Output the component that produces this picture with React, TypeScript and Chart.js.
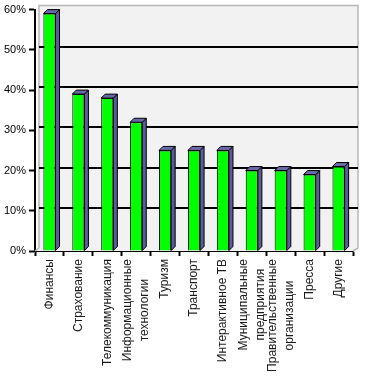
import React, { useEffect, useRef } from 'react';
import { Chart, registerables } from 'chart.js';

Chart.register(...registerables);

const categories: string[][] = [
  ['Финансы'],
  ['Страхование'],
  ['Телекоммуникация'],
  ['Информационные', 'технологии'],
  ['Туризм'],
  ['Транспорт'],
  ['Интерактивное ТВ'],
  ['Муниципальные', 'предприятия'],
  ['Правительственные', 'организации'],
  ['Пресса'],
  ['Другие'],
];
const values: number[] = [59, 39, 38, 32, 25, 25, 25, 20, 20, 19, 21];
const gridValues: number[] = [10, 20, 30, 40, 50];
const yMin = 0;
const yMax = 60;
const yStep = 10;

const FONT = '"Liberation Sans", Arial, sans-serif';
const DX = 4;
const DY = 4;

const wallPlugin = {
  id: 'wall3d',
  beforeDatasetsDraw(chart: any) {
    const { ctx, chartArea, scales } = chart;
    const { left, top, right, bottom } = chartArea;
    const y = scales.y;
    const wl = left + 4;
    const wt = top - 4;
    const wr = right + 5;
    const wb = bottom - 3;
    ctx.save();
    ctx.fillStyle = '#f2f2f2';
    ctx.fillRect(wl, wt, wr - wl, wb - wt);
    ctx.beginPath();
    ctx.moveTo(left, bottom);
    ctx.lineTo(wl, wb);
    ctx.lineTo(wr, wb);
    ctx.lineTo(right, bottom);
    ctx.closePath();
    ctx.fill();
    ctx.strokeStyle = '#b8b8b8';
    ctx.lineWidth = 1.5;
    ctx.beginPath();
    ctx.moveTo(wl, wb);
    ctx.lineTo(wl, wt);
    ctx.lineTo(wr, wt);
    ctx.lineTo(wr, wb);
    ctx.lineTo(right, bottom);
    ctx.stroke();
    ctx.beginPath();
    ctx.moveTo(left, bottom);
    ctx.lineTo(wl, wb);
    ctx.stroke();
    ctx.strokeStyle = '#000';
    ctx.lineWidth = 2;
    for (const v of gridValues) {
      const yy = Math.round(y.getPixelForValue(v) - 3);
      ctx.beginPath();
      ctx.moveTo(wl, yy);
      ctx.lineTo(wr, yy);
      ctx.stroke();
    }
    ctx.restore();
  },
  afterDatasetsDraw(chart: any) {
    const { ctx } = chart;
    const meta = chart.getDatasetMeta(0);
    ctx.save();
    ctx.lineWidth = 1;
    ctx.strokeStyle = '#000';
    meta.data.forEach((bar: any) => {
      const { x, y, base, width } = bar.getProps(['x', 'y', 'base', 'width'], true);
      const l = x - width / 2;
      const r = x + width / 2;
      ctx.fillStyle = '#5c5c9c';
      ctx.beginPath();
      ctx.moveTo(r, y);
      ctx.lineTo(r + DX, y - DY);
      ctx.lineTo(r + DX, base - DY);
      ctx.lineTo(r, base);
      ctx.closePath();
      ctx.fill();
      ctx.stroke();
      ctx.fillStyle = '#6a6aaa';
      ctx.beginPath();
      ctx.moveTo(l, y);
      ctx.lineTo(l + DX, y - DY);
      ctx.lineTo(r + DX, y - DY);
      ctx.lineTo(r, y);
      ctx.closePath();
      ctx.fill();
      ctx.stroke();
    });
    ctx.restore();
  },
  afterDraw(chart: any) {
    const { ctx, chartArea, scales } = chart;
    const xs = scales.x;
    const startY = chartArea.bottom + 8;
    const lh = 17;
    ctx.save();
    ctx.font = `12px ${FONT}`;
    ctx.fillStyle = '#1a1a1a';
    ctx.textAlign = 'center';
    ctx.textBaseline = 'middle';
    categories.forEach((lines, i) => {
      const cx = xs.getPixelForValue(i);
      const n = lines.length;
      const W = Math.max(...lines.map((s) => ctx.measureText(s).width));
      lines.forEach((line, j) => {
        const lx = cx + (j - (n - 1) / 2) * lh;
        ctx.save();
        ctx.translate(lx, startY);
        ctx.rotate(-Math.PI / 2);
        ctx.fillText(line, -W / 2, 0);
        ctx.restore();
      });
    });
    ctx.restore();
  },
};

export default function App() {
  const ref = useRef<HTMLCanvasElement | null>(null);
  useEffect(() => {
    document.body.style.margin = '0';
    const canvas = ref.current;
    if (!canvas) return;
    const chart = new Chart(canvas, {
      type: 'bar',
      data: {
        labels: categories.map((c) => c.join(' ')),
        datasets: [
          {
            data: values,
            backgroundColor: '#00ff00',
            borderColor: '#000',
            borderWidth: 1,
            barPercentage: 0.42,
            categoryPercentage: 1,
          },
        ],
      },
      options: {
        animation: false,
        responsive: false,
        maintainAspectRatio: false,
        layout: { padding: { top: 9, right: 13, left: 0, bottom: 0 } },
        plugins: {
          legend: { display: false },
          tooltip: { enabled: false },
          title: { display: false },
        },
        scales: {
          x: {
            type: 'category',
            offset: true,
            grid: {
              offset: true,
              drawOnChartArea: false,
              drawTicks: true,
              tickLength: 5,
              tickColor: '#000',
              tickWidth: 2,
            },
            border: { display: true, color: '#000', width: 2 },
            ticks: { display: false },
            afterFit: (scale: any) => {
              scale.height = 130;
            },
          },
          y: {
            min: yMin,
            max: yMax,
            grid: {
              drawOnChartArea: false,
              drawTicks: true,
              tickLength: 6,
              tickColor: '#000',
              tickWidth: 2,
            },
            border: { display: true, color: '#000', width: 2 },
            ticks: {
              stepSize: yStep,
              padding: 3,
              color: '#000',
              font: { family: FONT, size: 11 },
              callback: (v: any) => `${v}%`,
            },
            afterFit: (scale: any) => {
              scale.width = 35;
            },
          },
        },
      },
      plugins: [wallPlugin],
    });
    return () => chart.destroy();
  }, []);
  return (
    <div style={{ width: 366, height: 381 }}>
      <canvas ref={ref} width={366} height={381} style={{ display: 'block' }} />
    </div>
  );
}
